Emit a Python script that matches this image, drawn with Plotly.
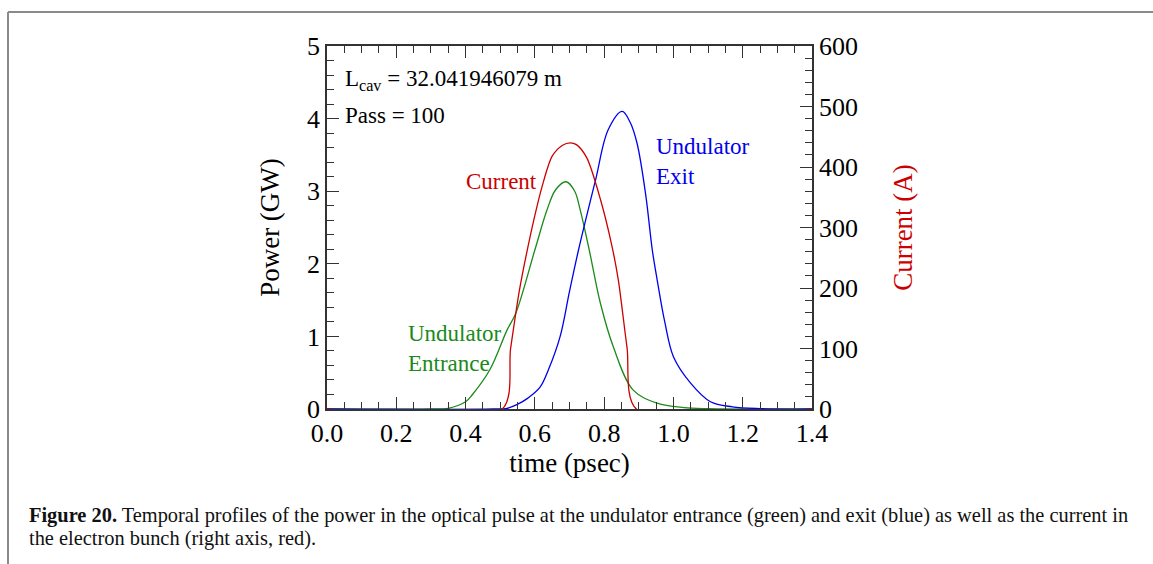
import plotly.graph_objects as go

# time axis (psec) and profiles
t_entrance = [0.0, 0.30, 0.35, 0.40, 0.42, 0.47, 0.52, 0.545, 0.60, 0.635, 0.66, 0.69,
              0.715, 0.731, 0.757, 0.789, 0.827, 0.884, 0.953, 1.03, 1.10, 1.40]
p_entrance = [0.0, 0.0, 0.01, 0.10, 0.20, 0.54, 1.09, 1.32, 2.19, 2.74, 3.02, 3.13,
              3.00, 2.74, 2.19, 1.46, 0.85, 0.26, 0.08, 0.02, 0.005, 0.0]

t_exit = [0.0, 0.48, 0.52, 0.548, 0.58, 0.615, 0.64, 0.673, 0.70, 0.726, 0.775, 0.812,
          0.852, 0.875, 0.895, 0.92, 0.939, 0.953, 0.975, 1.0, 1.049, 1.107,
          1.17, 1.25, 1.40]
p_exit = [0.0, 0.0, 0.01, 0.06, 0.15, 0.30, 0.55, 1.00, 1.62, 2.19, 3.15, 3.85,
          4.10, 3.95, 3.66, 2.95, 2.19, 1.78, 1.20, 0.72, 0.36, 0.10,
          0.03, 0.005, 0.0]

t_current = [0.0, 0.506, 0.53, 0.555, 0.58, 0.60, 0.62, 0.65, 0.68, 0.702, 0.72,
             0.75, 0.79, 0.823, 0.841, 0.866, 0.893, 1.40]
i_current = [0, 0, 100, 195, 268, 320, 366, 418, 436, 440, 437,
             415, 345, 268, 213, 102, 0, 0]

x_ticks = [0.0, 0.2, 0.4, 0.6, 0.8, 1.0, 1.2, 1.4]
x_tick_text = ["0.0", "0.2", "0.4", "0.6", "0.8", "1.0", "1.2", "1.4"]

GREEN = "#1a8a1a"
BLUE = "#0000ee"
RED = "#cc0000"
AXIS = "#333333"
SERIF = "Liberation Serif, Times New Roman, serif"

fig = go.Figure()
fig.add_trace(go.Scatter(x=t_entrance, y=p_entrance, mode="lines",
                         line=dict(color=GREEN, width=1.3, shape="spline", smoothing=1.0),
                         yaxis="y"))
fig.add_trace(go.Scatter(x=t_exit, y=p_exit, mode="lines",
                         line=dict(color=BLUE, width=1.3, shape="spline", smoothing=1.0),
                         yaxis="y"))
fig.add_trace(go.Scatter(x=t_current, y=i_current, mode="lines",
                         line=dict(color=RED, width=1.3, shape="spline", smoothing=0.8),
                         yaxis="y2"))

W, H = 1153, 564
L, R, T, B = 327, 341, 46, 155
pw, ph = W - L - R, H - T - B


def px(x):
    return (x - L) / pw


def py(y):
    return (H - B - y) / ph


axis_common = dict(showline=True, linecolor=AXIS, linewidth=1.5,
                   ticks="inside", ticklen=12, tickwidth=1.3, tickcolor=AXIS,
                   showgrid=False, zeroline=False,
                   tickfont=dict(family=SERIF, size=26, color="black"))

fig.update_layout(
    width=W, height=H,
    margin=dict(l=L, r=R, t=T, b=B),
    plot_bgcolor="white", paper_bgcolor="white",
    showlegend=False,
    xaxis=dict(range=[0, 1.4], tickvals=x_ticks, ticktext=x_tick_text,
               mirror="ticks",
               minor=dict(dtick=0.05, ticklen=7, tickcolor=AXIS, ticks="inside", tickwidth=1.2),
               title=dict(text="time (psec)", font=dict(family=SERIF, size=27, color="black"),
                          standoff=0),
               **axis_common),
    yaxis=dict(range=[0, 5], dtick=1,
               minor=dict(dtick=0.2, ticklen=7, tickcolor=AXIS, ticks="inside", tickwidth=1.2),
               title=dict(text="Power (GW)", font=dict(family=SERIF, size=27, color="black"),
                          standoff=20),
               **axis_common),
    yaxis2=dict(range=[0, 600], dtick=100, overlaying="y", side="right",
                minor=dict(dtick=20, ticklen=7, tickcolor=AXIS, ticks="inside", tickwidth=1.2),
                title=dict(text="Current (A)", font=dict(family=SERIF, size=27, color=RED),
                           standoff=36),
                **axis_common),
)

ann_font = dict(family=SERIF, size=23, color="black")
fig.add_annotation(x=px(343), y=py(80), xref="paper", yref="paper", xanchor="left",
                   yanchor="middle", showarrow=False, font=ann_font,
                   text="L<sub>cav</sub> = 32.041946079 m")
fig.add_annotation(x=px(343), y=py(116), xref="paper", yref="paper", xanchor="left",
                   yanchor="middle", showarrow=False, font=ann_font, text="Pass = 100")
fig.add_annotation(x=px(654), y=py(161), xref="paper", yref="paper", xanchor="left",
                   yanchor="middle", showarrow=False, align="left",
                   font=dict(family=SERIF, size=23, color=BLUE), text="Undulator<br>Exit")
fig.add_annotation(x=px(464), y=py(181), xref="paper", yref="paper", xanchor="left",
                   yanchor="middle", showarrow=False,
                   font=dict(family=SERIF, size=23, color=RED), text="Current")
fig.add_annotation(x=px(406), y=py(348), xref="paper", yref="paper", xanchor="left",
                   yanchor="middle", showarrow=False, align="left",
                   font=dict(family=SERIF, size=23, color=GREEN), text="Undulator<br>Entrance")

cap_font = dict(family=SERIF, size=20.4, color="#111111")
fig.add_annotation(x=px(27), y=py(515), xref="paper", yref="paper", xanchor="left",
                   yanchor="middle", showarrow=False, font=cap_font,
                   text="<b>Figure 20.</b> Temporal profiles of the power in the optical pulse at the "
                        "undulator entrance (green) and exit (blue) as well as the current in")
fig.add_annotation(x=px(27), y=py(538), xref="paper", yref="paper", xanchor="left",
                   yanchor="middle", showarrow=False, font=cap_font,
                   text="the electron bunch (right axis, red).")

# page frame lines (top and left)
fig.add_shape(type="line", xref="paper", yref="paper", x0=px(8), x1=px(W + 5),
              y0=py(12), y1=py(12), line=dict(color="#8a8a8a", width=2))
fig.add_shape(type="line", xref="paper", yref="paper", x0=px(8), x1=px(8),
              y0=py(12), y1=py(H + 5), line=dict(color="#8a8a8a", width=2))

fig.write_html("out.html")
